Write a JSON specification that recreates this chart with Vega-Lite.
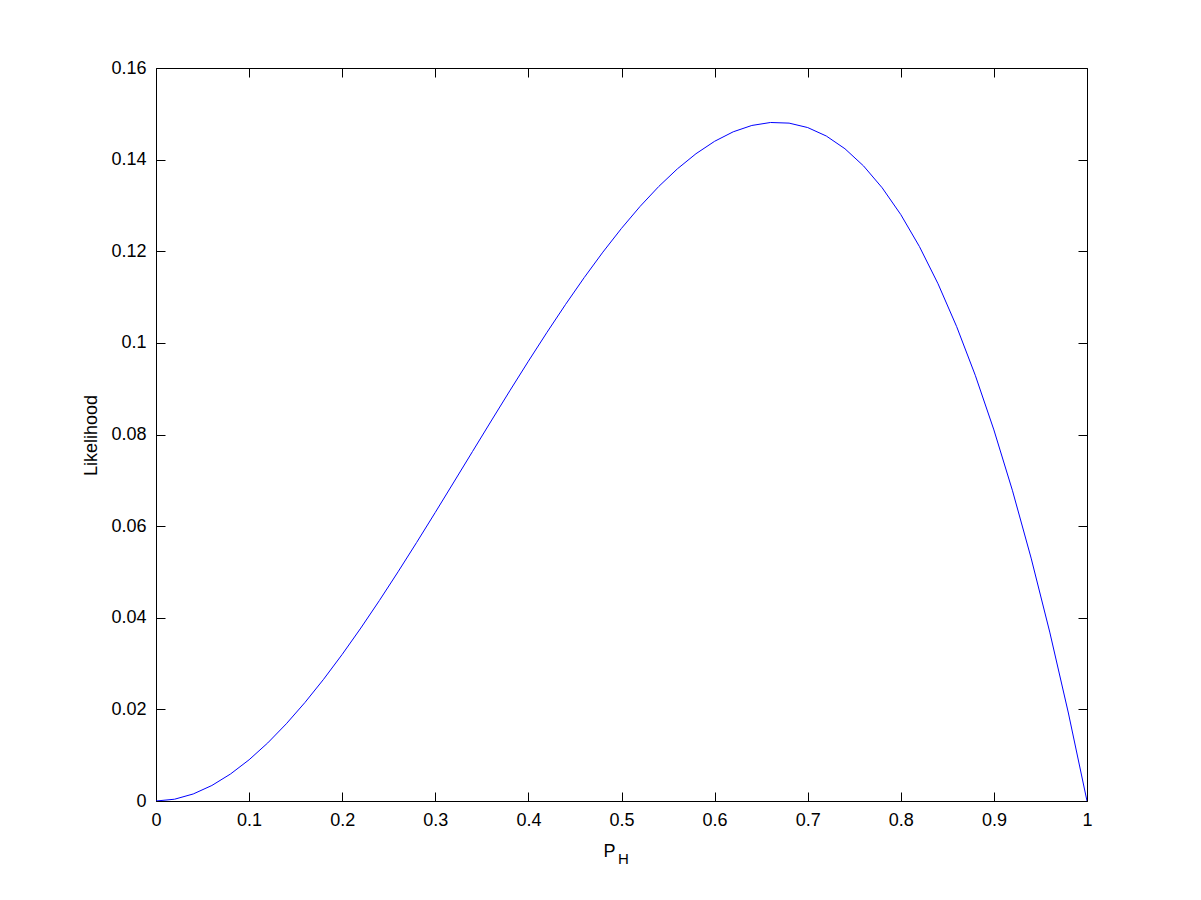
{
  "$schema": "https://vega.github.io/schema/vega-lite/v6.json",
  "autosize": "none",
  "width": 931,
  "height": 733,
  "padding": {"left": 156, "top": 68, "right": 114, "bottom": 99},
  "background": "white",
  "config": {
    "view": {"stroke": "black", "strokeWidth": 1},
    "axis": {
      "grid": false,
      "domain": false,
      "tickSize": -9,
      "tickColor": "black",
      "tickWidth": 1,
      "labelFont": "Liberation Sans",
      "labelFontSize": 18,
      "labelColor": "black",
      "titleFont": "Liberation Sans",
      "titleFontWeight": "normal",
      "titleColor": "black"
    }
  },
  "data": {
    "values": [
      {"p": 0, "L": 0}, {"p": 0.02, "L": 0.000392}, {"p": 0.04, "L": 0.001536}, {"p": 0.06, "L": 0.003384},
      {"p": 0.08, "L": 0.005888}, {"p": 0.1, "L": 0.009}, {"p": 0.12, "L": 0.012672}, {"p": 0.14, "L": 0.016856},
      {"p": 0.16, "L": 0.021504}, {"p": 0.18, "L": 0.026568}, {"p": 0.2, "L": 0.032}, {"p": 0.22, "L": 0.037752},
      {"p": 0.24, "L": 0.043776}, {"p": 0.26, "L": 0.050024}, {"p": 0.28, "L": 0.056448}, {"p": 0.3, "L": 0.063},
      {"p": 0.32, "L": 0.069632}, {"p": 0.34, "L": 0.076296}, {"p": 0.36, "L": 0.082944}, {"p": 0.38, "L": 0.089528},
      {"p": 0.4, "L": 0.096}, {"p": 0.42, "L": 0.102312}, {"p": 0.44, "L": 0.108416}, {"p": 0.46, "L": 0.114264},
      {"p": 0.48, "L": 0.119808}, {"p": 0.5, "L": 0.125}, {"p": 0.52, "L": 0.129792}, {"p": 0.54, "L": 0.134136},
      {"p": 0.56, "L": 0.137984}, {"p": 0.58, "L": 0.141288}, {"p": 0.6, "L": 0.144}, {"p": 0.62, "L": 0.146072},
      {"p": 0.64, "L": 0.147456}, {"p": 0.66, "L": 0.148104}, {"p": 0.68, "L": 0.147968}, {"p": 0.7, "L": 0.147},
      {"p": 0.72, "L": 0.145152}, {"p": 0.74, "L": 0.142376}, {"p": 0.76, "L": 0.138624}, {"p": 0.78, "L": 0.133848},
      {"p": 0.8, "L": 0.128}, {"p": 0.82, "L": 0.121032}, {"p": 0.84, "L": 0.112896}, {"p": 0.86, "L": 0.103544},
      {"p": 0.88, "L": 0.092928}, {"p": 0.9, "L": 0.081}, {"p": 0.92, "L": 0.067712}, {"p": 0.94, "L": 0.053016},
      {"p": 0.96, "L": 0.036864}, {"p": 0.98, "L": 0.019208}, {"p": 1, "L": 0}
    ]
  },
  "resolve": {"axis": {"x": "independent", "y": "independent"}},
  "layer": [
    {
      "mark": {"type": "line", "color": "#0000ff", "strokeWidth": 1, "clip": true},
      "encoding": {
        "x": {
          "field": "p", "type": "quantitative",
          "scale": {"domain": [0, 1], "nice": false, "zero": false},
          "axis": {
            "orient": "bottom", "values": [0, 0.1, 0.2, 0.3, 0.4, 0.5, 0.6, 0.7, 0.8, 0.9, 1], "format": "~g",
            "labelPadding": 19, "labelFlush": false, "labelOverlap": false,
            "title": "P", "titleFontSize": 18, "titleX": 453, "titleY": 55, "titleAlign": "center", "titleBaseline": "alphabetic"
          }
        },
        "y": {
          "field": "L", "type": "quantitative",
          "scale": {"domain": [0, 0.16], "nice": false, "zero": false},
          "axis": {
            "orient": "left", "values": [0, 0.02, 0.04, 0.06, 0.08, 0.1, 0.12, 0.14, 0.16], "format": "~g",
            "labelPadding": 19, "labelFlush": false, "labelOverlap": false,
            "title": "Likelihood", "titleFontSize": 18, "titleX": -60, "titleY": 367, "titleAngle": -90, "titleAlign": "center", "titleBaseline": "alphabetic"
          }
        }
      }
    },
    {
      "mark": {"type": "line", "opacity": 0},
      "encoding": {
        "x": {
          "field": "p", "type": "quantitative",
          "scale": {"domain": [0, 1], "nice": false, "zero": false},
          "axis": {
            "orient": "top", "values": [0, 0.1, 0.2, 0.3, 0.4, 0.5, 0.6, 0.7, 0.8, 0.9, 1], "labels": false,
            "title": "H", "titleFontSize": 15, "titleX": 467, "titleY": 795, "titleAlign": "center", "titleBaseline": "alphabetic"
          }
        },
        "y": {
          "field": "L", "type": "quantitative",
          "scale": {"domain": [0, 0.16], "nice": false, "zero": false},
          "axis": {
            "orient": "right", "values": [0, 0.02, 0.04, 0.06, 0.08, 0.1, 0.12, 0.14, 0.16], "labels": false, "title": null
          }
        }
      }
    }
  ]
}
